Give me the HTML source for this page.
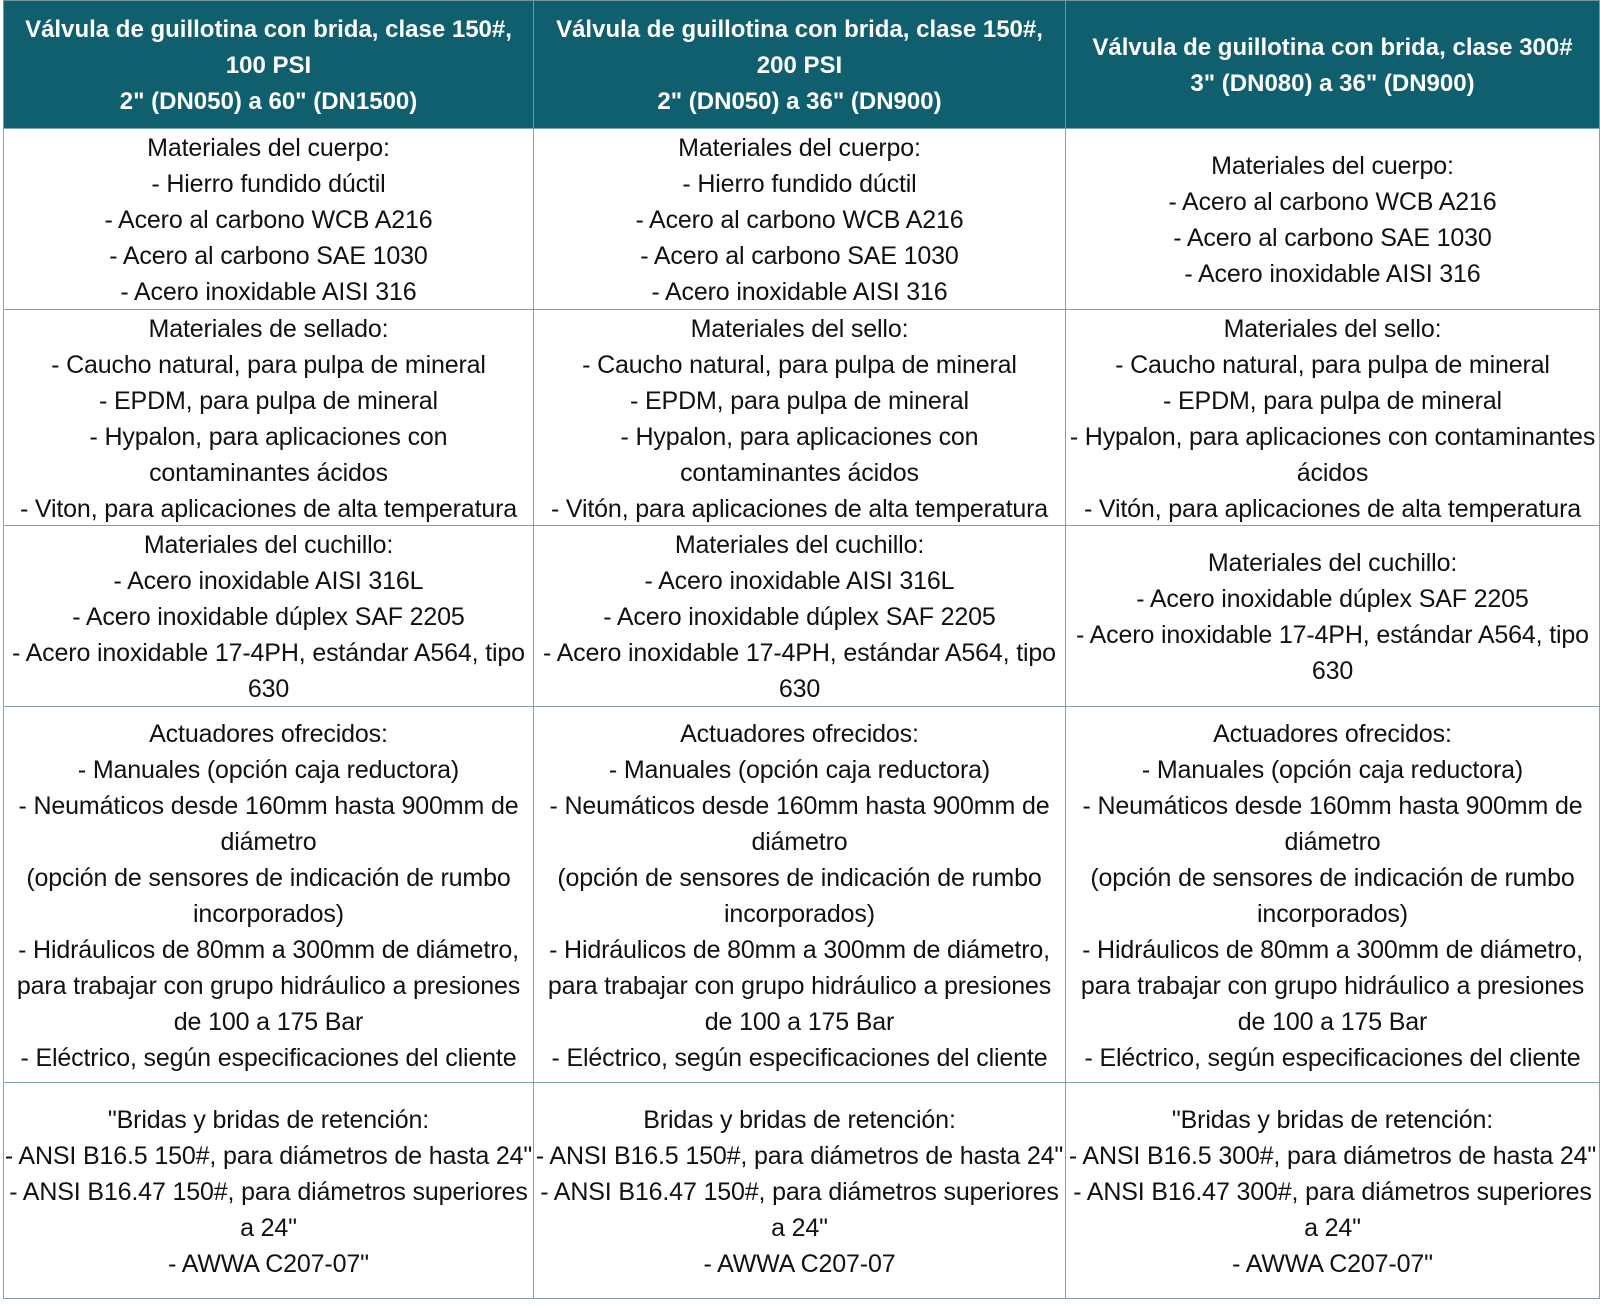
<!DOCTYPE html>
<html><head><meta charset="utf-8"><style>
html,body{margin:0;padding:0;background:#fff;width:1600px;height:1307px;overflow:hidden}
.c{position:absolute;display:flex;flex-direction:column;justify-content:center;align-items:center;text-align:center;box-sizing:border-box;border:1.5px solid #7fa3ad;padding-top:2px;font-family:"Liberation Sans",sans-serif;font-size:25px;letter-spacing:-0.15px;line-height:36px;color:#111;white-space:nowrap;overflow:hidden}
.h{background:#0f5f6f;color:#fff;font-weight:bold;font-size:24px;letter-spacing:0px;border-color:#6f98a3}
</style></head><body>
<div class="c h" style="left:3px;top:0;width:531px;height:129px">Válvula de guillotina con brida, clase 150#,<br>100 PSI<br>2" (DN050) a 60" (DN1500)</div>
<div class="c h" style="left:533px;top:0;width:533px;height:129px">Válvula de guillotina con brida, clase 150#,<br>200 PSI<br>2" (DN050) a 36" (DN900)</div>
<div class="c h" style="left:1065px;top:0;width:535px;height:129px">Válvula de guillotina con brida, clase 300#<br>3" (DN080) a 36" (DN900)</div>

<div class="c" style="left:3px;top:128px;width:531px;height:182px">Materiales del cuerpo:<br>- Hierro fundido dúctil<br>- Acero al carbono WCB A216<br>- Acero al carbono SAE 1030<br>- Acero inoxidable AISI 316</div>
<div class="c" style="left:533px;top:128px;width:533px;height:182px">Materiales del cuerpo:<br>- Hierro fundido dúctil<br>- Acero al carbono WCB A216<br>- Acero al carbono SAE 1030<br>- Acero inoxidable AISI 316</div>
<div class="c" style="left:1065px;top:128px;width:535px;height:182px">Materiales del cuerpo:<br>- Acero al carbono WCB A216<br>- Acero al carbono SAE 1030<br>- Acero inoxidable AISI 316</div>

<div class="c" style="left:3px;top:309px;width:531px;height:217px">Materiales de sellado:<br>- Caucho natural, para pulpa de mineral<br>- EPDM, para pulpa de mineral<br>- Hypalon, para aplicaciones con<br>contaminantes ácidos<br>- Viton, para aplicaciones de alta temperatura</div>
<div class="c" style="left:533px;top:309px;width:533px;height:217px">Materiales del sello:<br>- Caucho natural, para pulpa de mineral<br>- EPDM, para pulpa de mineral<br>- Hypalon, para aplicaciones con<br>contaminantes ácidos<br>- Vitón, para aplicaciones de alta temperatura</div>
<div class="c" style="left:1065px;top:309px;width:535px;height:217px">Materiales del sello:<br>- Caucho natural, para pulpa de mineral<br>- EPDM, para pulpa de mineral<br>- Hypalon, para aplicaciones con contaminantes<br>ácidos<br>- Vitón, para aplicaciones de alta temperatura</div>

<div class="c" style="left:3px;top:525px;width:531px;height:182px">Materiales del cuchillo:<br>- Acero inoxidable AISI 316L<br>- Acero inoxidable dúplex SAF 2205<br>- Acero inoxidable 17-4PH, estándar A564, tipo<br>630</div>
<div class="c" style="left:533px;top:525px;width:533px;height:182px">Materiales del cuchillo:<br>- Acero inoxidable AISI 316L<br>- Acero inoxidable dúplex SAF 2205<br>- Acero inoxidable 17-4PH, estándar A564, tipo<br>630</div>
<div class="c" style="left:1065px;top:525px;width:535px;height:182px">Materiales del cuchillo:<br>- Acero inoxidable dúplex SAF 2205<br>- Acero inoxidable 17-4PH, estándar A564, tipo<br>630</div>

<div class="c" style="left:3px;top:706px;width:531px;height:377px">Actuadores ofrecidos:<br>- Manuales (opción caja reductora)<br>- Neumáticos desde 160mm hasta 900mm de<br>diámetro<br>(opción de sensores de indicación de rumbo<br>incorporados)<br>- Hidráulicos de 80mm a 300mm de diámetro,<br>para trabajar con grupo hidráulico a presiones<br>de 100 a 175 Bar<br>- Eléctrico, según especificaciones del cliente</div>
<div class="c" style="left:533px;top:706px;width:533px;height:377px">Actuadores ofrecidos:<br>- Manuales (opción caja reductora)<br>- Neumáticos desde 160mm hasta 900mm de<br>diámetro<br>(opción de sensores de indicación de rumbo<br>incorporados)<br>- Hidráulicos de 80mm a 300mm de diámetro,<br>para trabajar con grupo hidráulico a presiones<br>de 100 a 175 Bar<br>- Eléctrico, según especificaciones del cliente</div>
<div class="c" style="left:1065px;top:706px;width:535px;height:377px">Actuadores ofrecidos:<br>- Manuales (opción caja reductora)<br>- Neumáticos desde 160mm hasta 900mm de<br>diámetro<br>(opción de sensores de indicación de rumbo<br>incorporados)<br>- Hidráulicos de 80mm a 300mm de diámetro,<br>para trabajar con grupo hidráulico a presiones<br>de 100 a 175 Bar<br>- Eléctrico, según especificaciones del cliente</div>

<div class="c" style="left:3px;top:1082px;width:531px;height:217px">"Bridas y bridas de retención:<br>- ANSI B16.5 150#, para diámetros de hasta 24"<br>- ANSI B16.47 150#, para diámetros superiores<br>a 24"<br>- AWWA C207-07"</div>
<div class="c" style="left:533px;top:1082px;width:533px;height:217px">Bridas y bridas de retención:<br>- ANSI B16.5 150#, para diámetros de hasta 24"<br>- ANSI B16.47 150#, para diámetros superiores<br>a 24"<br>- AWWA C207-07</div>
<div class="c" style="left:1065px;top:1082px;width:535px;height:217px">"Bridas y bridas de retención:<br>- ANSI B16.5 300#, para diámetros de hasta 24"<br>- ANSI B16.47 300#, para diámetros superiores<br>a 24"<br>- AWWA C207-07"</div>
</body></html>
